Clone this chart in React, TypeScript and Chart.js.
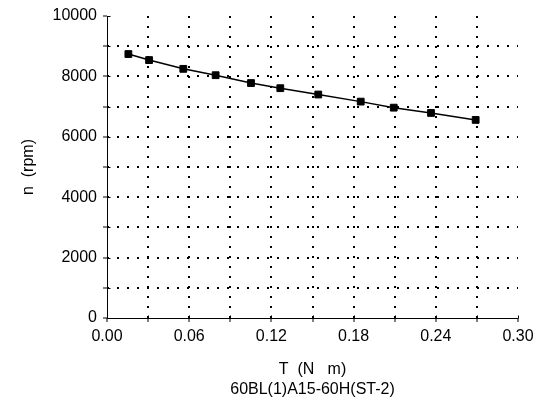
import React, { useEffect, useRef } from "react";
import { Chart, registerables } from "chart.js";

Chart.register(...registerables);

const torque = [0.0156, 0.0307, 0.0557, 0.0793, 0.1051, 0.1265, 0.1542, 0.1852, 0.2093, 0.2365, 0.2691];
const speed = [8740, 8540, 8250, 8040, 7780, 7610, 7400, 7165, 6965, 6790, 6560];

const xTitle = ["T  (N   m)", "60BL(1)A15-60H(ST-2)"];
const yTitle = "n  (rpm)";

const FONT = "'Liberation Sans', Arial, sans-serif";

const axisLines = {
  id: "axisLines",
  afterDraw(chart: any) {
    const { ctx, chartArea, scales } = chart;
    const { left, right, top, bottom } = chartArea;
    ctx.save();
    ctx.setLineDash([]);
    ctx.strokeStyle = "#000";
    ctx.lineWidth = 1;
    const lx = Math.round(left) + 0.5;
    const by = Math.round(bottom) + 0.5;
    ctx.beginPath();
    ctx.moveTo(lx, Math.round(top));
    ctx.lineTo(lx, by);
    ctx.lineTo(Math.round(right), by);
    // inner halves of tick marks
    scales.x.ticks.forEach((t: any) => {
      const px = Math.round(scales.x.getPixelForValue(t.value)) + 0.5;
      ctx.moveTo(px, by);
      ctx.lineTo(px, by - 3);
    });
    scales.y.ticks.forEach((t: any) => {
      const py = Math.round(scales.y.getPixelForValue(t.value)) + 0.5;
      ctx.moveTo(lx, py);
      ctx.lineTo(lx + 3, py);
    });
    ctx.stroke();
    ctx.restore();
  },
};

export default function App() {
  const ref = useRef<HTMLCanvasElement | null>(null);

  useEffect(() => {
    if (!ref.current) return;
    const chart = new Chart(ref.current, {
      type: "scatter",
      data: {
        datasets: [
          {
            data: torque.map((t, i) => ({ x: t, y: speed[i] })),
            showLine: true,
            borderColor: "#000",
            backgroundColor: "#000",
            borderWidth: 1.5,
            pointStyle: "rect",
            pointRadius: 4.8,
            pointBorderWidth: 1,
          },
        ],
      },
      options: {
        responsive: false,
        animation: false,
        layout: { padding: { left: 0, right: 22, top: 16, bottom: 0 } },
        plugins: { legend: { display: false }, tooltip: { enabled: false } },
        scales: {
          x: {
            type: "linear",
            min: 0,
            max: 0.3,
            afterFit: (s: any) => {
              s.height = 85;
            },
            ticks: {
              stepSize: 0.03,
              autoSkip: false,
              maxRotation: 0,
              padding: 5,
              color: "#000",
              font: { family: FONT, size: 16 },
              callback: (v: any, i: number) => (i % 2 === 0 ? Number(v).toFixed(2) : ""),
            },
            grid: {
              color: (c: any) => (c.index === 0 || c.index === 10 ? "rgba(0,0,0,0)" : "#000"),
              lineWidth: 2,
              tickColor: "#000",
              tickLength: 4,
              tickWidth: 1,
            },
            border: { display: false, dash: [2, 8] },
            title: {
              display: true,
              text: xTitle,
              color: "#000",
              font: { family: FONT, size: 16, lineHeight: 1.25 },
              padding: { top: 0, bottom: 3 },
            },
          },
          y: {
            type: "linear",
            min: 0,
            max: 10000,
            afterFit: (s: any) => {
              s.width = 107;
            },
            ticks: {
              stepSize: 1000,
              autoSkip: false,
              padding: 6,
              color: "#000",
              font: { family: FONT, size: 16 },
              callback: (v: any, i: number) => (i % 2 === 0 ? String(v) : ""),
            },
            grid: {
              color: (c: any) => (c.index === 0 || c.index === 10 ? "rgba(0,0,0,0)" : "#000"),
              lineWidth: 2,
              tickColor: "#000",
              tickLength: 4,
              tickWidth: 1,
            },
            border: { display: false, dash: [2, 8] },
            title: {
              display: true,
              text: yTitle,
              color: "#000",
              font: { family: FONT, size: 16 },
              padding: { top: 19, bottom: 0 },
            },
          },
        },
      },
      plugins: [axisLines],
    });
    return () => chart.destroy();
  }, []);

  return (
    <div style={{ position: "absolute", left: 0, top: 0, width: 540, height: 403, background: "#fff" }}>
      <canvas ref={ref} width={540} height={403} style={{ display: "block" }} />
    </div>
  );
}
